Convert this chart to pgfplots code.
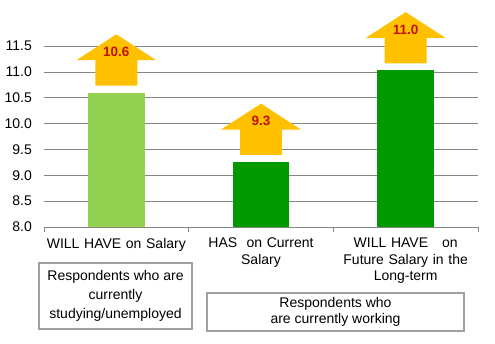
\documentclass[border=0pt]{standalone}
\usepackage{pgfplots}
\pgfplotsset{compat=1.18}
\usepackage{fontspec}
\setmainfont{Liberation Sans}
\definecolor{lgreen}{RGB}{146,208,80}
\definecolor{dgreen}{RGB}{0,153,0}
\definecolor{arrowc}{RGB}{255,192,0}
\definecolor{lblc}{RGB}{192,16,0}
\definecolor{gridc}{RGB}{134,134,134}
\definecolor{boxc}{RGB}{160,160,160}
% values
\def\vA{10.6}
\def\vB{9.26}
\def\vC{11.03}
\newcommand{\uparr}[3]{%
  \fill[arrowc] (axis cs:#1-0.145,#2+0.135) -- (axis cs:#1+0.145,#2+0.135) -- (axis cs:#1+0.145,#2+0.625)
     -- (axis cs:#1+0.276,#2+0.625) -- (axis cs:#1,#2+1.125) -- (axis cs:#1-0.276,#2+0.625)
     -- (axis cs:#1-0.145,#2+0.625) -- cycle;
  \node[text=lblc, font=\fontsize{13.5}{15}\selectfont\bfseries, inner sep=0pt] at (axis cs:#1,#2+0.79) {#3};
}
\begin{document}
\begin{tikzpicture}[x=1pt,y=1pt]
\begin{axis}[
  scale only axis, width=434pt, height=181pt,
  ymin=8, ymax=11.5,
  xmin=-0.5, xmax=2.5,
  ytick={8,8.5,...,11.5},
  yticklabel style={/pgf/number format/fixed, /pgf/number format/fixed zerofill, /pgf/number format/precision=1},
  /pgf/number format/assume math mode=true,
  xtick={0,1,2},
  minor xtick={-0.5,0.5,1.5,2.5},
  xticklabels={{WILL HAVE on Salary},{HAS\ \ on Current\\Salary},{WILL HAVE\ \ \ on\\Future Salary in the\\Long-term}},
  xticklabel style={text width=145pt, align=center, anchor=north, inner sep=0pt, yshift=-11pt,
     font=\fontsize{14}{16.5}\selectfont},
  yticklabel style={font=\fontsize{14}{16}\selectfont, anchor=east, inner sep=0pt, xshift=-12pt},
  major tick length=0pt,
  minor tick length=5pt,
  tick align=outside,
  axis lines*=left,
  y axis line style={draw=none},
  x axis line style={draw=gridc, line width=0.8pt},
  minor tick style={draw=gridc, line width=0.8pt},
  ymajorgrids,
  grid style={draw=gridc, line width=0.7pt},
  ybar, bar width=0.39,
  clip=false,
]
\coordinate (O) at (rel axis cs:0,0);
\addplot[fill=lgreen, draw=none, bar shift=0pt] coordinates {(0,\vA)};
\addplot[fill=dgreen, draw=none, bar shift=0pt] coordinates {(1,\vB)};
\addplot[fill=dgreen, draw=none, bar shift=0pt] coordinates {(2,\vC)};
\uparr{0}{\vA}{10.6}
\uparr{1}{\vB}{9.3}
\uparr{2}{\vC}{11.0}
\end{axis}
\path (O) ++(-44,-116) rectangle ++(495,343);
\node[draw=boxc, line width=1.3pt, fill=white, minimum width=153pt, minimum height=66pt,
      align=center, font=\fontsize{14}{19}\selectfont] at ([shift={(71.5,-69)}]O)
      {Respondents who are\\currently\\studying/unemployed};
\node[draw=boxc, line width=1.3pt, fill=white, minimum width=257pt, minimum height=38pt,
      align=center, font=\fontsize{14}{15.5}\selectfont] at ([shift={(291.5,-85)}]O)
      {Respondents who\\are currently working};
\end{tikzpicture}
\end{document}
